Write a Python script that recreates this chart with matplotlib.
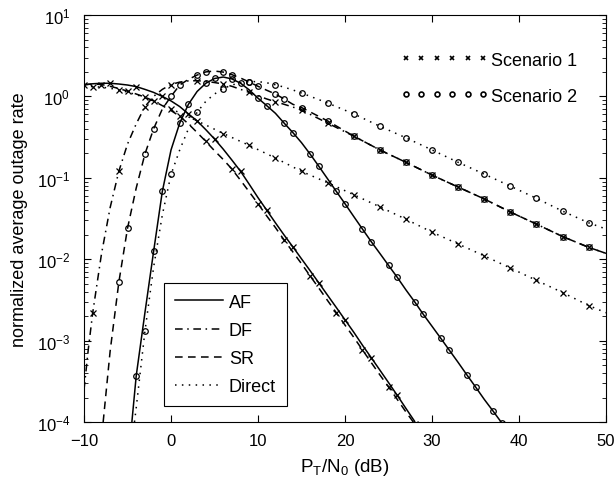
import numpy as np
import matplotlib
matplotlib.use("Agg")
import matplotlib.pyplot as plt
from matplotlib.lines import Line2D

plt.rcParams['font.family'] = ['Liberation Sans', 'DejaVu Sans']
plt.rcParams['mathtext.fontset'] = 'custom'
plt.rcParams['mathtext.rm'] = 'Liberation Sans'
plt.rcParams['mathtext.it'] = 'Liberation Sans'

# ---- data (x in dB, y = normalized average outage rate) ----
# Scenario 1
x_af1 = list(range(-10, 29))
y_af1 = [1.38, 1.43, 1.45, 1.45, 1.42, 1.38, 1.32, 1.22, 1.12, 1.0, 0.88, 0.75, 0.61,
         0.5, 0.39, 0.30, 0.225, 0.165, 0.12, 0.083, 0.057, 0.040, 0.028, 0.0198,
         0.0142, 0.0101, 0.0072, 0.0051, 0.0036, 0.00255, 0.0018, 0.00127, 8.8e-4,
         6.2e-4, 4.35e-4, 3.05e-4, 2.13e-4, 1.47e-4, 1.02e-4]

x_sr1 = list(range(-10, 29))
y_sr1 = [1.40, 1.42, 1.40, 1.33, 1.25, 1.16, 1.07, 0.98, 0.88, 0.77, 0.67, 0.57, 0.46,
         0.36, 0.28, 0.215, 0.168, 0.128, 0.093, 0.067, 0.048, 0.034, 0.0245, 0.0172,
         0.0123, 0.0088, 0.0062, 0.0044, 0.0031, 0.0022, 0.00155, 0.0011, 7.7e-4,
         5.4e-4, 3.8e-4, 2.7e-4, 1.9e-4, 1.33e-4, 9.5e-5]

x_dir1 = list(range(-10, 7)) + list(range(9, 49, 3)) + [50]
y_dir1 = [1.33, 1.32, 1.3, 1.26, 1.2, 1.13, 1.05, 0.97, 0.88, 0.79, 0.70, 0.63, 0.56,
          0.5, 0.445, 0.395, 0.35, 0.25, 0.175, 0.12, 0.087, 0.062, 0.044, 0.031,
          0.0215, 0.0154, 0.011, 0.0078, 0.0055, 0.0039, 0.0027, 0.0022]

x_df1 = [-10, -9.5] + list(range(-9, 16)) + list(range(18, 49, 3)) + [50]
y_df1 = [2.5e-4, 8e-4, 2.2e-3, 0.0115, 0.043, 0.12, 0.26, 0.46, 0.75, 1.0, 1.22, 1.4,
         1.5, 1.55, 1.56, 1.53, 1.48, 1.42, 1.33, 1.22, 1.12, 1.02, 0.93, 0.86, 0.8,
         0.74, 0.68, 0.47, 0.325, 0.22, 0.155, 0.108, 0.077, 0.055, 0.038, 0.027,
         0.019, 0.014, 0.0118]

# Scenario 2
x_sr2 = [-7.8] + list(range(-7, 16)) + list(range(18, 49, 3)) + [50]
y_sr2 = [1e-4, 7.4e-4, 5.2e-3, 0.024, 0.075, 0.196, 0.4, 0.7, 1.0, 1.38, 1.62, 1.83,
         2.0, 2.05, 1.99, 1.85, 1.68, 1.5, 1.33, 1.19, 1.07, 0.93, 0.8, 0.73, 0.5,
         0.325, 0.22, 0.155, 0.108, 0.077, 0.055, 0.038, 0.027, 0.019, 0.014, 0.0118]

x_af2 = [-4.5] + list(range(-4, 39))
y_af2 = [1e-4, 3.7e-4, 2.2e-3, 0.0125, 0.068, 0.22, 0.47, 0.8, 1.15, 1.45, 1.66, 1.73,
         1.64, 1.45, 1.2, 0.95, 0.77, 0.62, 0.47, 0.36, 0.27, 0.195, 0.138, 0.097,
         0.068, 0.048, 0.0335, 0.0235, 0.0165, 0.0118, 0.0084, 0.006, 0.0042, 0.003,
         0.0021, 0.0015, 0.00107, 7.6e-4, 5.4e-4, 3.8e-4, 2.7e-4, 1.9e-4, 1.37e-4,
         9.8e-5]

x_dir2 = [-4.2] + list(range(-4, 16)) + list(range(18, 49, 3)) + [50]
y_dir2 = [1e-4, 1.5e-4, 1.3e-3, 0.008, 0.035, 0.11, 0.22, 0.4, 0.64, 0.87, 1.07, 1.25,
          1.38, 1.47, 1.52, 1.52, 1.47, 1.39, 1.3, 1.2, 1.1, 0.83, 0.61, 0.43, 0.31,
          0.22, 0.155, 0.111, 0.079, 0.056, 0.039, 0.028, 0.0235]

scheme_labels = ['AF', 'DF', 'SR', 'Direct']
scenario_labels = ['Scenario 1', 'Scenario 2']


def marks(x, keep, upto=None, keep_after=None):
    # indices of integer-dB points whose residue mod 3 is in keep
    idx = []
    for i, v in enumerate(x):
        if v != round(v):
            continue
        r = int(round(v)) % 3
        k = keep if (upto is None or v <= upto) else keep_after
        if r in k:
            idx.append(i)
    return idx


dashed = (0, (5, 3.5))
dashdot = (0, (5, 3, 1, 3))
dotted = (0, (1, 3.5))

fig = plt.figure(figsize=(6.16, 4.85), dpi=100)
ax = fig.add_axes([0.1364, 0.1278, 0.8474, 0.8392])

kx = dict(color='black', lw=1.1, marker='x', ms=5, mew=0.9)
ko = dict(color='black', lw=1.1, marker='o', ms=4, mew=0.9, mfc='none')

ax.semilogy(x_dir1, y_dir1, ls=dotted, markevery=marks(x_dir1, {0}), **kx)
ax.semilogy(x_dir2, y_dir2, ls=dotted, markevery=marks(x_dir2, {0}), **ko)
ax.semilogy(x_df1, y_df1, ls=dashdot, markevery=marks(x_df1, {0}), **kx)
ax.semilogy(x_sr2, y_sr2, ls=dashed, markevery=marks(x_sr2, {0, 1}, 13, {0}), **ko)
ax.semilogy(x_sr1, y_sr1, ls=dashed, markevery=marks(x_sr1, {1}), **kx)
ax.semilogy(x_af1, y_af1, ls='-', markevery=marks(x_af1, {2}), **kx)
ax.semilogy(x_af2, y_af2, ls='-', markevery=marks(x_af2, {1, 2}), **ko)

ax.set_xlim(-10, 50)
ax.set_ylim(1e-4, 10)
ax.set_xticks(range(-10, 51, 10))
ax.tick_params(which='both', direction='in', top=True, right=True, labelsize=12)
ax.tick_params(which='major', length=5)
ax.tick_params(which='minor', length=3)
ax.tick_params(axis='x', which='major', pad=8)
ax.tick_params(axis='y', which='major', pad=10)
ax.set_xlabel(r'P$_\mathregular{T}$/N$_\mathregular{0}$ (dB)', fontsize=13.5, labelpad=6)
ax.set_ylabel('normalized average outage rate', fontsize=13, labelpad=6)

# legend of line styles (schemes)
h1 = [Line2D([], [], color='black', lw=1.1, ls=s) for s in ['-', dashdot, dashed, dotted]]
leg1 = ax.legend(h1, scheme_labels, loc='lower left', bbox_to_anchor=(0.153, 0.039),
                 borderaxespad=0, fontsize=13, handlelength=2.7, handletextpad=0.3,
                 labelspacing=0.62, borderpad=0.6, fancybox=False, framealpha=1,
                 edgecolor='black')
leg1.get_frame().set_linewidth(0.8)
ax.add_artist(leg1)

# legend of markers (scenarios)
h2 = [Line2D([], [], color='black', ls='none', marker='x', ms=3.5, mew=1.2),
      Line2D([], [], color='black', ls='none', marker='o', ms=3.5, mew=1.2, mfc='none')]
ax.legend(h2, scenario_labels, loc='upper left', bbox_to_anchor=(0.575, 0.95),
          numpoints=6, fontsize=13, handlelength=4.9, handletextpad=0.1,
          labelspacing=1.05, frameon=False)

fig.savefig('out.png', dpi=100)
